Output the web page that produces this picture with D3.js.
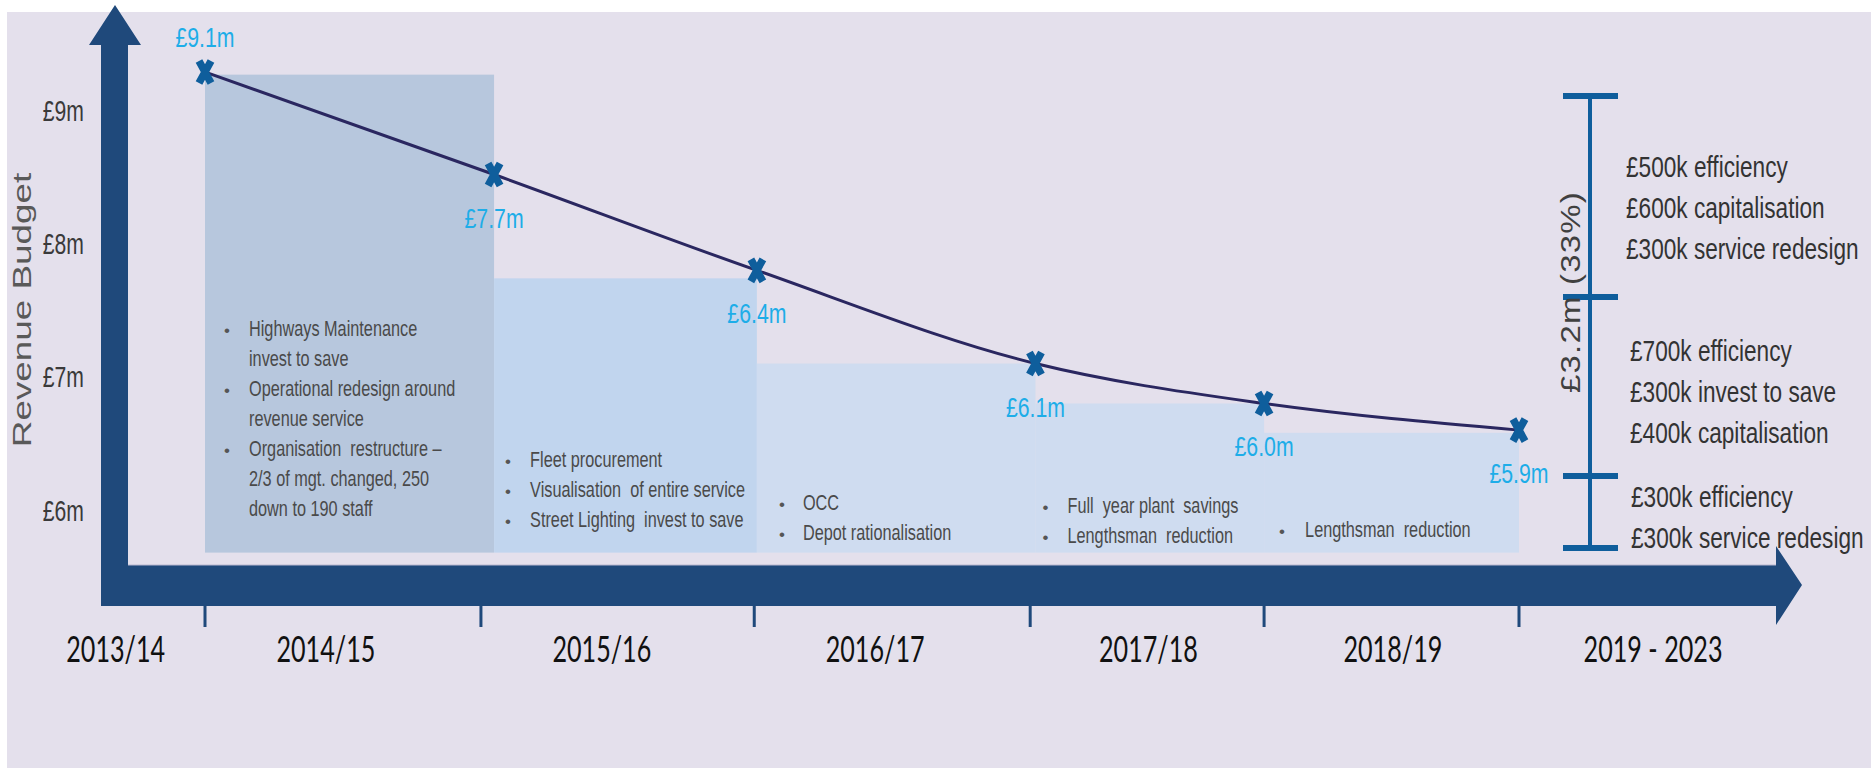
<!DOCTYPE html>
<html><head><meta charset="utf-8">
<script src="https://cdn.jsdelivr.net/npm/d3@7"></script>
<style>html,body{margin:0;padding:0;background:#fff;overflow:hidden}</style>
</head><body><svg id="c" width="1871" height="768"></svg>
<script>
// ---------------- DATA ----------------
const periods = ["2013/14", "2014/15", "2015/16", "2016/17", "2017/18", "2018/19", "2019 - 2023"];
// timeline position (in years) of each period label
const periodLabelAt = [2013.66, 2014.46, 2015.51, 2016.55, 2017.59, 2018.52, 2019.51];
// year boundaries marked by ticks on the time axis
const tickAt = [2014, 2015.05, 2016.09, 2017.14, 2018.03, 2019];
// budget points: time position, level as drawn against the £ axis, printed label
const budgetAt = [2014, 2015.10, 2016.10, 2017.16, 2018.03, 2019];
const budgetLevel = [9.29, 8.52, 7.80, 7.10, 6.80, 6.60];
const budgetLabel = ["£9.1m", "£7.7m", "£6.4m", "£6.1m", "£6.0m", "£5.9m"];
const labelSide = ["above", "below", "below", "below", "below", "below"];
// y axis
const yTicks = [6, 7, 8, 9];
const yTickLabels = ["£6m", "£7m", "£8m", "£9m"];
const yTitle = "Revenue Budget";
// shaded blocks, one per year (levels on £ axis)
const blockTop = [9.27, 7.74, 7.10, 6.80, 6.58];
const blockBase = 5.68;
const blockNotes = [
  [["Highways Maintenance", "invest to save"], ["Operational redesign around", "revenue service"], ["Organisation  restructure –", "2/3 of mgt. changed, 250", "down to 190 staff"]],
  [["Fleet procurement"], ["Visualisation  of entire service"], ["Street Lighting  invest to save"]],
  [["OCC"], ["Depot rationalisation"]],
  [["Full  year plant  savings"], ["Lengthsman  reduction"]],
  [["Lengthsman  reduction"]]
];
// 2019-2023 savings bracket (levels on £ axis)
const savingsCaps = [9.11, 7.60, 6.255, 5.714];
const savingsTotal = "£3.2m (33%)";
const savingsGroups = [
  ["£500k efficiency", "£600k capitalisation", "£300k service redesign"],
  ["£700k efficiency", "£300k invest to save", "£400k capitalisation"],
  ["£300k efficiency", "£300k service redesign"]
];

// ---------------- LAYOUT ----------------
const W = 1871, H = 768;
const navy = "#1F497B", markBlue = "#0F5E9C", cyan = "#1DADE8", grey = "#454545";
const blockFill = ["#B7C7DD", "#C1D5EE", "#CFDCF0", "#CFDCF0", "#CFDCF0"];
const notePad = [{b: 19, t: 44, y: 336}, {b: 11, t: 36, y: 467}, {b: 22, t: 46, y: 510}, {b: 7, t: 32, y: 513}, {b: 15, t: 41, y: 537}];

const svg = d3.select("#c");
const x = d3.scaleLinear().domain([2014, 2019]).range([205, 1519]);
const y = d3.scaleLinear().domain([6, 9]).range([510, 110.6]);

function txt(g, px, py, s, o) {
  const t = g.append("text")
    .attr("transform", `translate(${px},${py}) rotate(${o.rot || 0}) scale(${o.sx || 1},1)`)
    .attr("font-family", o.family || "'Liberation Sans', Arial, sans-serif")
    .attr("font-size", o.size)
    .attr("fill", o.fill || grey)
    .attr("text-anchor", o.anchor || "start")
    .style("white-space", "pre")
    .text(s);
  if (o.ls) t.attr("letter-spacing", o.ls);
  return t;
}

// background
svg.append("rect").attr("x", 0).attr("y", 0).attr("width", W).attr("height", H).attr("fill", "#fff");
svg.append("rect").attr("x", 7).attr("y", 12).attr("width", W - 7).attr("height", H - 12).attr("fill", "#E4E0EC");

// blocks
const blocks = svg.append("g");
blockTop.forEach((top, i) => {
  const x0 = x(budgetAt[i]), x1 = x(budgetAt[i + 1]);
  blocks.append("rect").attr("x", x0).attr("y", y(top))
    .attr("width", x1 - x0).attr("height", y(blockBase) - y(top)).attr("fill", blockFill[i]);
  let line = 0;
  blockNotes[i].forEach(item => {
    item.forEach((s, k) => {
      const by = notePad[i].y + line * 30;
      if (k === 0) txt(blocks, x0 + notePad[i].b, by, "•", {size: 17, sx: 1, fill: "#555"});
      txt(blocks, x0 + notePad[i].t, by, s, {size: 22, sx: 0.74, fill: "#4A4A4A"});
      line++;
    });
  });
});

// axes (arrows)
const axisG = svg.append("g");
const yTop = 5, headBase = 45, shaftL = 101, shaftR = 128;
const barTop = 565, barBot = 606, xHeadBase = 1776, xTip = 1802;
axisG.append("path").attr("fill", navy)
  .attr("d", `M${shaftL},${barBot}L${shaftL},${headBase}L89,${headBase}L115,${yTop}L141,${headBase}L${shaftR},${headBase}L${shaftR},${barTop}Z`);
axisG.append("path").attr("fill", navy)
  .attr("d", `M${shaftR},${barTop}L${xHeadBase},${barTop}L${xHeadBase},546L${xTip},585L${xHeadBase},625L${xHeadBase},${barBot}L${shaftL},${barBot}L${shaftL},${barTop}Z`);
axisG.append("line").attr("x1", shaftR).attr("x2", xHeadBase).attr("y1", barTop).attr("y2", barTop)
  .attr("stroke", "#B9B7CF").attr("stroke-width", 1.2);
tickAt.forEach(t => {
  axisG.append("line").attr("x1", x(t)).attr("x2", x(t)).attr("y1", barBot).attr("y2", 627)
    .attr("stroke", navy).attr("stroke-width", 3);
});
periods.forEach((p, i) => {
  txt(axisG, x(periodLabelAt[i]), 662, p, {size: 37, sx: 0.68, anchor: "middle", fill: "#111", family: "Lato, 'Liberation Sans', sans-serif"});
});
yTicks.forEach((v, i) => {
  txt(axisG, 84, y(v) + 10.5, yTickLabels[i], {size: 29, sx: 0.73, anchor: "end", fill: "#3A3A3A"});
});
txt(axisG, 31, 310, yTitle, {size: 26.5, sx: 1.39, rot: -90, anchor: "middle", fill: "#595959"});

// budget line
const pts = budgetAt.map((t, i) => [x(t), y(budgetLevel[i])]);
svg.append("path").attr("d", d3.line().curve(d3.curveMonotoneX)(pts))
  .attr("fill", "none").attr("stroke", "#2A2760").attr("stroke-width", 3);
const mk = svg.append("g");
pts.forEach((p, i) => {
  mk.append("path").attr("transform", `translate(${p[0]},${p[1]})`)
    .attr("d", "M-6,-11L6,11M6,-11L-6,11").attr("stroke", markBlue).attr("stroke-width", 7.5).attr("fill", "none");
  const dy = labelSide[i] === "above" ? -25 : 53;
  txt(mk, p[0], p[1] + dy, budgetLabel[i], {size: 28, sx: 0.76, anchor: "middle", fill: cyan});
});

// savings bracket
const br = svg.append("g");
const bx = 1590;
br.append("line").attr("x1", bx).attr("x2", bx).attr("y1", y(savingsCaps[0])).attr("y2", y(savingsCaps[3]))
  .attr("stroke", markBlue).attr("stroke-width", 4);
savingsCaps.forEach(c => {
  br.append("line").attr("x1", 1563).attr("x2", 1618).attr("y1", y(c)).attr("y2", y(c))
    .attr("stroke", markBlue).attr("stroke-width", 6);
});
txt(br, 1580, 292, savingsTotal, {size: 27, sx: 1.22, rot: -90, anchor: "middle", fill: "#404040", ls: 1});
const groupBase = [177, 361, 507], groupX = [1626, 1630, 1631];
savingsGroups.forEach((g, gi) => {
  g.forEach((s, k) => txt(br, groupX[gi], groupBase[gi] + k * 41, s, {size: 29, sx: 0.78, fill: "#333"}));
});
</script></body></html>
